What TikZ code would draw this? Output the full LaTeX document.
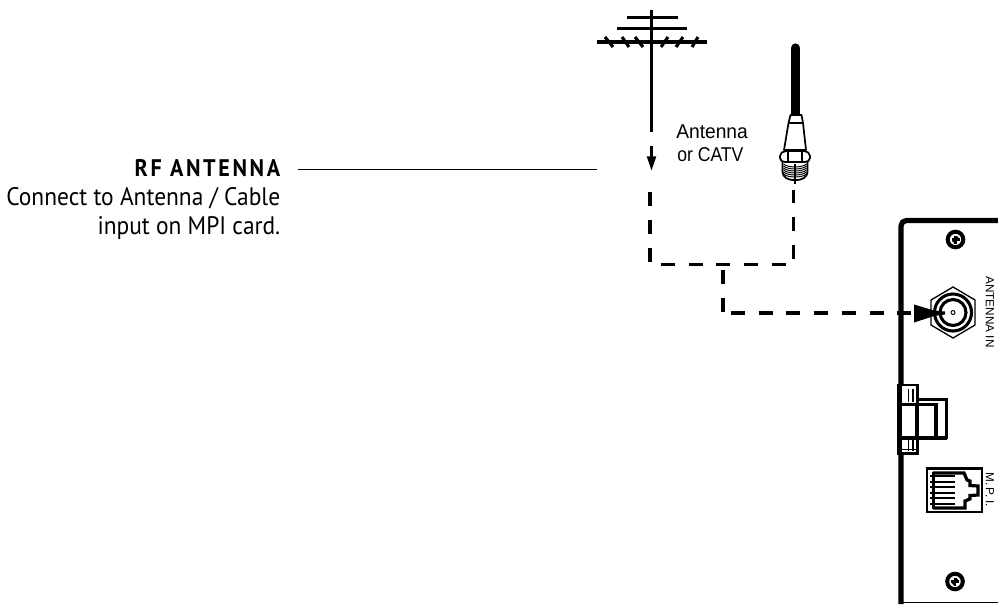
\documentclass[tikz,border=0pt]{standalone}
\usepackage{fontspec}
\setmainfont{Liberation Sans}
\newfontfamily\notefont[FakeStretch=0.925]{PT Sans}
\newfontfamily\notebold[FakeStretch=0.92,LetterSpace=11]{PT Sans Bold}
\newfontfamily\lblA[FakeStretch=0.96]{Liberation Sans}
\newfontfamily\lblB[FakeStretch=0.88]{Liberation Sans}
\usetikzlibrary{arrows.meta}
\tikzset{
  px/.style={x=0.75pt,y=-0.75pt},
  wire/.style={line width=2.5pt,dash pattern=on 10.5pt off 10.3pt},
  mast/.style={line width=2.3pt},
  panel/.style={line width=3.9pt,line join=round},
  thin/.style={line width=0.75pt},
  outl/.style={line width=1.3pt,line join=round},
  note/.style={inner sep=0pt,anchor=base east,font=\notefont\fontsize{19}{20}\selectfont},
  lbl/.style={inner sep=0pt,anchor=base west},
  vlbl/.style={inner sep=0pt,rotate=-90,font=\fontsize{8.8}{10}\selectfont},
}
\begin{document}
\begin{tikzpicture}[px]
\useasboundingbox (0,0) rectangle (998,604);
% texts
\node[note,font=\notebold\fontsize{18}{20}\selectfont] (title) at (280.5,176) {RF ANTENNA};
\node[note] (line1) at (280.5,205) {Connect to Antenna / Cable};
\node[note] (line2) at (280.5,234) {input on MPI card.};
\coordinate (leadS) at (298,169.5);
\coordinate (leadE) at (597,169.5);
\draw[thin] (leadS) -- (leadE);
\node[lbl,font=\lblA\fontsize{15}{16}\selectfont] (ant) at (676,138) {Antenna};
\node[lbl,font=\lblB\fontsize{15}{16}\selectfont] (cat) at (677,161) {or CATV};
% dipole antenna
\coordinate (mT) at (651.5,10);
\coordinate (mB) at (651.5,132);
\draw[mast] (mT) -- (mB);
\draw[mast] (627,17.5) -- (678,17.5);
\draw[mast] (617,28.5) -- (687,28.5);
\draw[mast] (597,42) -- (707,42);
\foreach \a/\b in {605/613,622/629,635/643,668/661,683/676,698/692}
  \draw[mast] (\a,37) -- (\b,47);
% small arrow
\coordinate (aS) at (651.5,146);
\coordinate (aE) at (651.5,171);
\draw[mast,-{Triangle[length=11pt,width=6.5pt]}] (aS) -- (aE);
% coax
\draw[line width=7pt,line cap=round] (795.5,48) -- (795.5,114);
\draw[outl,fill=white] (790.5,115) -- (801.5,115) -- (803,123) -- (806,150) -- (784,150) -- (788.5,123) -- cycle;
\draw[outl] (788.5,123) -- (803,123);
\draw[outl,fill=white] (782.5,160) -- (782.5,172) .. controls (782.5,183) and (807.5,183) .. (807.5,172) -- (807.5,160) -- cycle;
\draw[outl,fill=white,rounded corners=1.5pt] (783,162) -- (780,160) -- (780,154) -- (784,151) -- (806,151) -- (810,154) -- (810,160) -- (807,162) -- cycle;
\draw[outl] (788,151.5) -- (788,162) (802,151.5) -- (802,162);
\foreach \y in {164,166,168,170,172,174}
  \draw[line width=0.7pt] (783.5,\y) .. controls (788,\y+4) and (802,\y+4) .. (806.5,\y);
\draw[line width=1pt] (795,164) -- (795,184);
% dashed wires
\coordinate (wL) at (650,192.3);
\coordinate (wC) at (650,264.7);
\coordinate (wR) at (793.5,190);
\coordinate (wD) at (793.5,264.7);
\coordinate (wJ) at (723,270);
\coordinate (wK) at (723,313);
\coordinate (wH) at (731,313);
\coordinate (wT) at (914,313);
\draw[wire] (wL) -- (wC) -- (wD) -- (wR);
\draw[wire] (wJ) -- (wK);
\draw[wire] (wH) -- (wT);
% panel
\draw[panel,rounded corners=4pt] (998,220.5) -- (901,220.5) -- (901,604);
\draw[line width=0.9pt] (901,602.8) -- (998,602.8);
% screws
\foreach \n/\x/\y in {s1/955.5/239.5,s2/955/581.5}{
  \draw[line width=3pt,fill=white] (\x,\y) circle (7.8);
  \fill (\x-4,\y-1.4) rectangle (\x+4,\y+1.4);
  \fill (\x-1.4,\y-4) rectangle (\x+1.4,\y+4);
  \fill[rotate around={45:(\x,\y)}] (\x-3.4,\y-1.6) rectangle (\x+3.4,\y+1.6);
}
% F connector
\coordinate (fc) at (953,312.5);
\draw[line width=1pt,fill=white] (953,287) -- (975,300) -- (975,325) -- (953,338) -- (931,325) -- (931,300) -- cycle;
\draw[line width=2.3pt] (fc) circle (18.5);
\draw[line width=2.3pt] (fc) circle (13);
\draw[line width=0.7pt] (fc) circle (2);
\fill (914,304.5) -- (914,322.5) -- (934,316) -- (945,314.5) -- (945,311.5) -- (934,310.5) -- cycle;
\node[vlbl] (antin) at (990,312) {ANTENNA IN};
\node[vlbl] (mpi) at (990,489.5) {M.\hspace{2pt}P.\hspace{2pt}I.};
% clip
\fill[white] (898,385) rectangle (917.5,453);
\draw[line width=2pt] (898.5,385) rectangle (917.5,453.5);
\draw[line width=3pt] (900,385) -- (900,453.5);
\draw[line width=1.9pt,fill=white] (917.5,399.5) rectangle (946.5,438);
\draw[line width=2.4pt] (899,404.5) -- (936,404.5) -- (936,437);
\draw[line width=3pt] (899,437.5) -- (946.5,437.5);
\draw[line width=2.4pt] (917,404.5) -- (917,437);
\foreach \a/\b in {389/402,440/451}{
  \draw[line width=1.2pt] (908.5,\a) -- (908.5,\b);
  \draw[line width=1.2pt] (913,\a) -- (913,\b);
}
\draw[line width=1pt] (901,449.5) -- (917,449.5);
% jack
\draw[line width=1.8pt,fill=white] (927,468.5) rectangle (982,512);
\draw[line width=2.4pt,line join=miter] (933,473) -- (964,473) -- (967,480) -- (970,481) -- (970,485.5) -- (978,486) -- (978,495) -- (970,495.5) -- (970,499) -- (965,501) -- (965,508) -- (933,508);
\foreach \y in {476,482,487,493,498,504}
  \draw[line width=1.5pt] (930,\y) -- (955,\y);
\draw[line width=2pt] (933.5,472) -- (933.5,509);
\end{tikzpicture}
\end{document}
